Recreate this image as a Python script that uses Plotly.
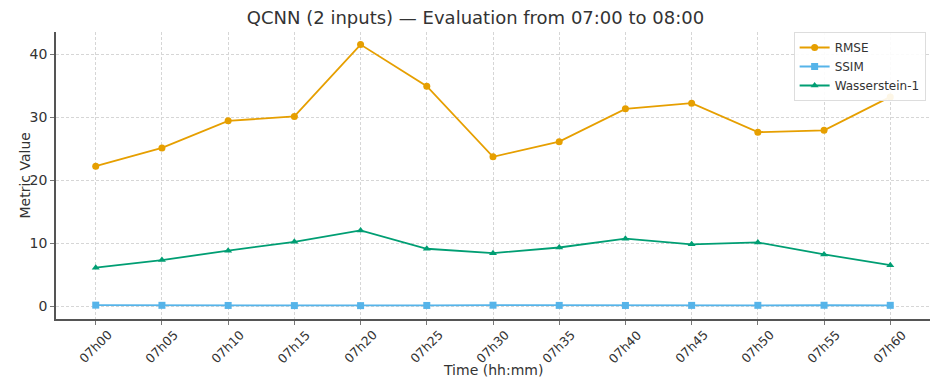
import plotly.graph_objects as go

times = ["07h00", "07h05", "07h10", "07h15", "07h20", "07h25", "07h30",
         "07h35", "07h40", "07h45", "07h50", "07h55", "07h60"]
rmse = [22.2, 25.1, 29.4, 30.1, 41.5, 34.9, 23.7, 26.1, 31.3, 32.2, 27.6, 27.9, 33.2]
ssim = [0.15, 0.12, 0.10, 0.08, 0.07, 0.10, 0.14, 0.11, 0.10, 0.11, 0.12, 0.13, 0.12]
wasserstein = [6.1, 7.3, 8.8, 10.2, 12.0, 9.1, 8.4, 9.3, 10.7, 9.8, 10.1, 8.2, 6.5]
y_ticks = [0, 10, 20, 30, 40]

fig = go.Figure()
fig.add_trace(go.Scatter(x=times, y=rmse, name="RMSE", mode="lines+markers",
                         line=dict(color="#E69F00", width=1.8),
                         marker=dict(symbol="circle", size=7)))
fig.add_trace(go.Scatter(x=times, y=ssim, name="SSIM", mode="lines+markers",
                         line=dict(color="#56B4E9", width=1.8),
                         marker=dict(symbol="square", size=7)))
fig.add_trace(go.Scatter(x=times, y=wasserstein, name="Wasserstein-1", mode="lines+markers",
                         line=dict(color="#009E73", width=1.8),
                         marker=dict(symbol="triangle-up", size=7)))

# page body has an 8px margin, so the figure is sized to fit inside it
fig.update_layout(
    width=935, height=370,
    margin=dict(l=48, r=13, t=24, b=59),
    paper_bgcolor="white", plot_bgcolor="white",
    font=dict(family="DejaVu Sans", color="#333333"),
    title=dict(text="QCNN (2 inputs) — Evaluation from 07:00 to 08:00",
               x=0.5, xanchor="center", y=0.99, yanchor="top",
               font=dict(size=18, color="#333333")),
    legend=dict(x=0.995, y=1.0, xanchor="right", yanchor="top",
                bordercolor="#dddddd", borderwidth=1, bgcolor="rgba(255,255,255,0.9)",
                font=dict(size=12, color="#333333"), tracegroupgap=0),
    showlegend=True,
)

# rotated tick labels centred on their ticks (matplotlib style)
for t in times:
    fig.add_annotation(text=t, x=t, xref="x", y=0, yref="paper",
                       xanchor="center", yanchor="top", yshift=-7,
                       textangle=-45, showarrow=False, borderpad=0,
                       font=dict(size=12.5, color="#333333"))

# axis titles as annotations so they sit where the reference has them
fig.add_annotation(text="Time (hh:mm)", xref="paper", yref="paper",
                   x=0.5, y=-0.1777, xanchor="center", yanchor="middle",
                   showarrow=False, borderpad=0, font=dict(size=14, color="#333333"))
fig.add_annotation(text="Metric Value", xref="paper", yref="paper",
                   x=-0.0355, y=0.5, xanchor="center", yanchor="middle",
                   textangle=-90, showarrow=False, font=dict(size=14, color="#333333"))

fig.update_xaxes(
    range=[-0.6, 12.6], showticklabels=False, automargin=False,
    showline=True, linecolor="#555555", linewidth=1.5,
    ticks="outside", ticklen=4, tickcolor="#777777",
    showgrid=True, gridcolor="#d6d6d6", griddash="3px,2px", gridwidth=0.8,
    zeroline=False,
)
fig.update_yaxes(
    range=[-2.05, 43.5], tickvals=y_ticks, automargin=False,
    tickfont=dict(family="DejaVu Sans", size=14, color="#333333"),
    showline=True, linecolor="#555555", linewidth=1.5,
    ticks="outside", ticklen=4, tickcolor="#777777",
    showgrid=True, gridcolor="#d6d6d6", griddash="3px,2px", gridwidth=0.8,
    zeroline=False,
)

fig.write_html("out.html")
